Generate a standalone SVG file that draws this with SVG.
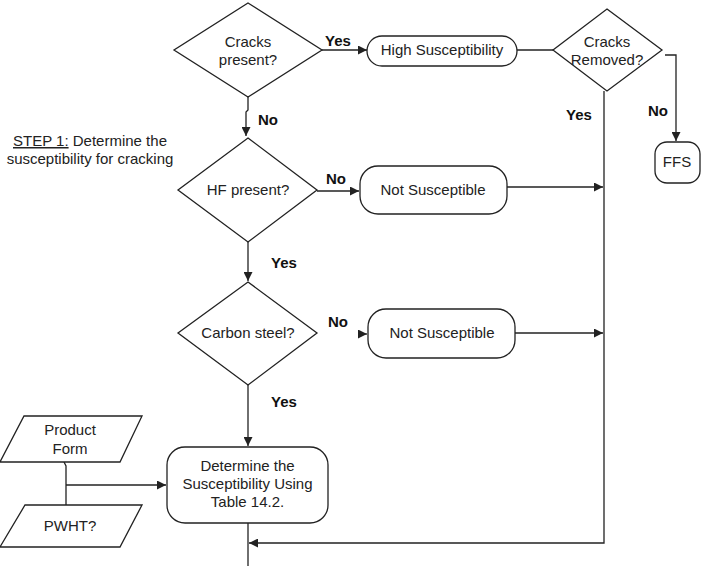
<svg xmlns="http://www.w3.org/2000/svg" width="705" height="566" viewBox="0 0 705 566">
<style>
.shape{fill:#fff;stroke:#222;stroke-width:1.3}
.t{font-family:"Liberation Sans",Arial,sans-serif;font-size:15px;fill:#222;text-anchor:middle}
.lbl{font-family:"Liberation Sans",Arial,sans-serif;font-size:15px;font-weight:bold;fill:#111}
.c{fill:none;stroke:#222;stroke-width:1.3}
</style>
<defs>
<marker id="ah" viewBox="0 0 10 10" refX="10" refY="5" markerWidth="10" markerHeight="9" markerUnits="userSpaceOnUse" orient="auto">
<path d="M0,0 L10,5 L0,10 z" fill="#222"/>
</marker>
</defs>
<rect width="705" height="566" fill="#fff"/>
<g id="connectors">
<polyline class="c" points="248,97 248,110 246,112 246,136" marker-end="url(#ah)"/>
<line class="c" x1="322" y1="50" x2="367" y2="50" marker-end="url(#ah)"/>
<line class="c" x1="517" y1="50" x2="553" y2="50"/>
<polyline class="c" points="665,55 676,55 676,141" marker-end="url(#ah)"/>
<polyline class="c" points="604,91 604,543 249,543" marker-end="url(#ah)"/>
<line class="c" x1="317" y1="191" x2="359" y2="191" marker-end="url(#ah)"/>
<line class="c" x1="507" y1="187" x2="603" y2="187" marker-end="url(#ah)"/>
<line class="c" x1="248" y1="242" x2="248" y2="281" marker-end="url(#ah)"/>
<line class="c" x1="358" y1="334" x2="367" y2="334" marker-end="url(#ah)"/>
<line class="c" x1="515" y1="333" x2="603" y2="333" marker-end="url(#ah)"/>
<line class="c" x1="248" y1="385" x2="248" y2="446" marker-end="url(#ah)"/>
<line class="c" x1="248" y1="523" x2="248" y2="566"/>
<polyline class="c" points="64,462 66,466 66,505"/>
<line class="c" x1="66" y1="485" x2="166" y2="485" marker-end="url(#ah)"/>
<text class="lbl" x="258" y="125">No</text>
<text class="lbl" x="325" y="46">Yes</text>
<text class="lbl" x="648" y="116">No</text>
<text class="lbl" x="566" y="120">Yes</text>
<text class="lbl" x="326" y="184">No</text>
<text class="lbl" x="271" y="268">Yes</text>
<text class="lbl" x="328" y="327">No</text>
<text class="lbl" x="271" y="407">Yes</text>
</g>
<g id="n1">
<polygon class="shape" points="248,3 322,50 248,97 174,50"/>
<text class="t" x="248" y="47">Cracks</text>
<text class="t" x="248" y="65">present?</text>
</g>
<g id="n2">
<rect class="shape" x="367" y="36" width="150" height="30" rx="15"/>
<text class="t" x="442" y="55">High Susceptibility</text>
</g>
<g id="n3">
<polygon class="shape" points="607,9 662,50 607,91 553,50"/>
<text class="t" x="607" y="47">Cracks</text>
<text class="t" x="607" y="65">Removed?</text>
</g>
<g id="n4">
<rect class="shape" x="655" y="142" width="45" height="41" rx="12"/>
<text class="t" x="677" y="167">FFS</text>
</g>
<g id="n5">
<text class="t" x="90" y="146"><tspan text-decoration="underline">STEP 1:</tspan> Determine the</text>
<text class="t" x="90" y="164">susceptibility for cracking</text>
</g>
<g id="n6">
<polygon class="shape" points="248,138 317,190 248,242 178,190"/>
<text class="t" x="248" y="195">HF present?</text>
</g>
<g id="n7">
<rect class="shape" x="360" y="166" width="147" height="48" rx="18"/>
<text class="t" x="433" y="195">Not Susceptible</text>
</g>
<g id="n8">
<polygon class="shape" points="248,282 317,333 248,385 178,333"/>
<text class="t" x="248" y="338">Carbon steel?</text>
</g>
<g id="n9">
<rect class="shape" x="368" y="309" width="147" height="49" rx="18"/>
<text class="t" x="442" y="338">Not Susceptible</text>
</g>
<g id="n10">
<rect class="shape" x="167" y="447" width="161" height="76" rx="18"/>
<text class="t" x="247.5" y="471">Determine the</text>
<text class="t" x="247.5" y="489">Susceptibility Using</text>
<text class="t" x="247.5" y="507">Table 14.2.</text>
</g>
<g id="n11">
<polygon class="shape" points="24,416 142,416 120,462 0,462"/>
<text class="t" x="70" y="435">Product</text>
<text class="t" x="70" y="454">Form</text>
</g>
<g id="n12">
<polygon class="shape" points="25,505 142,505 120,547 0,547"/>
<text class="t" x="70" y="531">PWHT?</text>
</g>
</svg>
